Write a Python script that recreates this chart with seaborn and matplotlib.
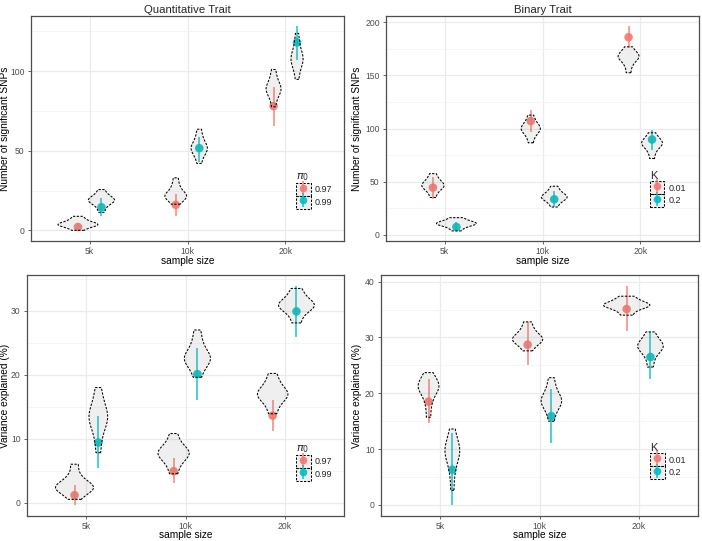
import numpy as np
import pandas as pd
import matplotlib
matplotlib.use("Agg")
import matplotlib.pyplot as plt
import seaborn as sns
from matplotlib.lines import Line2D
from matplotlib.patches import Rectangle
from matplotlib.legend_handler import HandlerTuple

sns.set_theme(style="white")
plt.rcParams['font.family'] = ['Liberation Sans', 'DejaVu Sans']

sample_sizes = ["5k", "10k", "20k"]
qt_levels = ["0.97", "0.99"]
bt_levels = ["0.01", "0.2"]

# ---- Quantitative trait: number of significant SNPs ----
qt_snp_dist = {
    "0.97": [[0.0, 1.7, 2.66, 3.34, 3.8, 3.8, 4.4, 5.55, 6.8, 8.8],
             [16.4, 18.9, 20.3, 21.3, 22.0, 22.0, 23.3, 25.9, 28.6, 33.0],
             [77.6, 82.7, 85.6, 87.6, 89.0, 89.0, 90.4, 93.2, 96.2, 101.0]],
    "0.99": [[11.3, 14.9, 16.9, 18.2, 18.9, 18.9, 19.6, 20.9, 22.6, 25.6],
             [42.0, 46.4, 48.9, 50.6, 51.8, 51.8, 53.2, 55.9, 58.8, 63.5],
             [94.8, 100.7, 104.0, 106.4, 108.0, 108.0, 109.9, 113.5, 117.4, 123.7]],
}
qt_snp_mean = {"0.97": [2.1, 16.0, 78.0], "0.99": [14.5, 51.6, 118.0]}
qt_snp_low = {"0.97": [0.0, 9.0, 65.4], "0.99": [8.8, 43.0, 107.0]}
qt_snp_high = {"0.97": [4.5, 22.6, 90.0], "0.99": [20.0, 58.7, 128.3]}

# ---- Binary trait: number of significant SNPs ----
bt_snp_dist = {
    "0.01": [[35.0, 40.2, 43.1, 45.1, 46.5, 46.5, 47.8, 50.4, 53.1, 57.5],
             [86.5, 92.6, 96.0, 98.4, 100.0, 100.0, 101.5, 104.4, 107.6, 112.6],
             [152.5, 159.3, 163.1, 165.8, 167.6, 167.6, 168.7, 170.9, 173.2, 177.0]],
    "0.2": [[3.5, 6.6, 8.3, 9.6, 10.4, 10.4, 11.1, 12.4, 13.8, 16.0],
            [26.0, 30.3, 32.7, 34.4, 35.5, 35.5, 36.7, 39.0, 41.6, 45.6],
            [71.7, 78.1, 81.7, 84.3, 86.0, 86.0, 87.2, 89.5, 92.0, 96.0]],
}
bt_snp_mean = {"0.01": [44.3, 107.0, 186.0], "0.2": [7.2, 33.3, 89.6]}
bt_snp_low = {"0.01": [34.0, 97.0, 175.5], "0.2": [4.0, 26.0, 80.0]}
bt_snp_high = {"0.01": [54.4, 117.0, 196.5], "0.2": [12.0, 41.0, 99.0]}

# ---- Quantitative trait: variance explained (%) ----
qt_var_dist = {
    "0.97": [[0.5, 1.4, 1.9, 2.2, 2.45, 2.45, 2.85, 3.4, 4.3, 6.0],
             [4.5, 5.9, 6.7, 7.3, 7.7, 7.7, 8.1, 8.6, 9.4, 10.8],
             [13.9, 15.3, 16.1, 16.6, 17.0, 17.0, 17.4, 18.1, 18.9, 20.2]],
    "0.99": [[7.8, 10.3, 11.7, 12.7, 13.4, 13.4, 14.0, 15.0, 16.2, 18.0],
             [19.6, 21.0, 21.8, 22.3, 22.7, 22.7, 23.2, 24.2, 25.3, 27.0],
             [28.1, 29.4, 30.1, 30.6, 30.9, 30.9, 31.2, 31.8, 32.5, 33.5]],
}
qt_var_mean = {"0.97": [1.15, 4.9, 13.6], "0.99": [9.4, 20.1, 29.9]}
qt_var_low = {"0.97": [-0.4, 3.0, 11.2], "0.99": [5.4, 16.1, 25.9]}
qt_var_high = {"0.97": [2.7, 7.0, 16.0], "0.99": [13.5, 24.2, 33.9]}

# ---- Binary trait: variance explained (%) ----
bt_var_dist = {
    "0.01": [[15.7, 18.1, 19.5, 20.5, 21.1, 21.1, 21.4, 22.0, 22.7, 23.7],
             [27.6, 28.6, 29.1, 29.5, 29.8, 29.8, 30.2, 30.9, 31.6, 32.8],
             [34.0, 34.8, 35.3, 35.6, 35.8, 35.8, 36.0, 36.4, 36.8, 37.4]],
    "0.2": [[2.6, 5.7, 7.4, 8.7, 9.5, 9.5, 10.0, 10.9, 12.0, 13.6],
            [15.0, 16.7, 17.6, 18.3, 18.7, 18.7, 19.2, 20.1, 21.2, 22.8],
            [24.7, 26.4, 27.3, 28.0, 28.4, 28.4, 28.7, 29.3, 30.0, 31.0]],
}
bt_var_mean = {"0.01": [18.5, 28.7, 35.1], "0.2": [6.3, 15.9, 26.5]}
bt_var_low = {"0.01": [14.6, 25.0, 31.1], "0.2": [0.0, 11.0, 22.6]}
bt_var_high = {"0.01": [22.6, 32.8, 39.2], "0.2": [12.8, 20.8, 31.0]}

RED = "#F8766D"
TEAL = "#00BFC4"
VFILL = (0.5, 0.5, 0.5, 0.12)
DASH = (0, (2.2, 1.4))

W, H = 702, 541


def draw_panel(ax, dist, mean, low, high, levels, width, ylim, yticks, yminor,
               ylabel, legend_title, anchor, box_px, ylabel_x_px, xlabel_gap_px,
               title=None):
    offsets = {levels[0]: -0.12, levels[1]: 0.12}
    colors = {levels[0]: RED, levels[1]: TEAL}
    vrows, prows = [], []
    for lev in levels:
        for i, size in enumerate(sample_sizes):
            pos = i + 1 + offsets[lev]
            for v in dist[lev][i]:
                vrows.append({"pos": pos, "value": v})
            prows.append({"pos": pos, "level": lev, "mean": mean[lev][i],
                          "low": low[lev][i], "high": high[lev][i]})
    vdf = pd.DataFrame(vrows)
    pdf = pd.DataFrame(prows)

    ax.vlines(pdf["pos"], pdf["low"], pdf["high"],
              colors=pdf["level"].map(colors), lw=1.1, zorder=2, alpha=0.9)
    sns.scatterplot(data=pdf, x="pos", y="mean", hue="level", palette=colors,
                    s=38, edgecolor="none", legend=False, ax=ax, zorder=2,
                    alpha=0.9)
    n0 = len(ax.collections)
    sns.violinplot(data=vdf, x="pos", y="value", orient="x", native_scale=True,
                   inner=None, cut=0, density_norm="area", width=width,
                   bw_adjust=0.85,
                   color="#808080", saturation=1, linecolor="black",
                   linewidth=0.75, linestyle=DASH, ax=ax)
    for coll in ax.collections[n0:]:
        coll.set_facecolor(VFILL)
        coll.set_edgecolor("black")
        coll.set_zorder(3)

    ax.set_xlim(0.4, 3.6)
    ax.set_ylim(*ylim)
    ax.set_xticks([1, 2, 3])
    ax.set_xticklabels(sample_sizes)
    ax.set_yticks(yticks)
    ax.set_yticklabels([str(t) for t in yticks])
    ax.set_yticks(yminor, minor=True)
    ax.set_axisbelow(True)
    ax.grid(True, which="major", color="#EBEBEB", lw=0.9)
    ax.grid(True, which="minor", axis="y", color="#F2F2F2", lw=0.5)
    for sp in ax.spines.values():
        sp.set_visible(True)
        sp.set_color("#4D4D4D")
        sp.set_linewidth(0.9)
    ax.tick_params(axis="both", which="major", length=2.5, width=0.6,
                   color="#4D4D4D", labelcolor="#4D4D4D", labelsize=6.2, pad=2,
                   bottom=True, left=True)
    ax.tick_params(axis="y", which="minor", length=0)

    left, top, right, bottom = box_px
    ax.set_xlabel("sample size", fontsize=7.3, color="black")
    ax.xaxis.set_label_coords(0.5, -xlabel_gap_px / (bottom - top))
    ax.set_ylabel(ylabel, fontsize=7.3, color="black")
    ax.yaxis.set_label_coords((ylabel_x_px - left) / (right - left), 0.5)
    if title:
        ax.set_title(title, fontsize=8.2, pad=2.5)

    handles = []
    for lev in levels:
        c = colors[lev]
        box = Rectangle((0, 0), 1, 1, facecolor=VFILL, edgecolor="black",
                        linestyle=DASH, lw=0.75)
        bar = Line2D([], [], color=c, marker="|", markersize=10,
                     markeredgewidth=1.1, linestyle="none", alpha=0.9)
        dot = Line2D([], [], color=c, marker="o", markersize=5.5,
                     markeredgewidth=0, linestyle="none", alpha=0.9)
        handles.append((box, bar, dot))
    ax.legend(handles, levels, title=legend_title, loc="upper left",
              bbox_to_anchor=anchor, frameon=False, fontsize=6.5,
              title_fontsize=8, handlelength=1.6, handleheight=1.8,
              labelspacing=0.0, handletextpad=0.5, borderpad=0,
              borderaxespad=0, alignment="left",
              handler_map={tuple: HandlerTuple(ndivide=1)})


fig = plt.figure(figsize=(7.02, 5.41), dpi=100)


def axes_px(box):
    left, top, right, bottom = box
    return fig.add_axes([left / W, 1 - bottom / H, (right - left) / W, (bottom - top) / H])


b1 = (31, 16, 344, 241)
b2 = (386, 16, 699, 241)
b3 = (27, 275, 344, 516)
b4 = (381, 275, 698, 516)
ax1, ax2, ax3, ax4 = axes_px(b1), axes_px(b2), axes_px(b3), axes_px(b4)

draw_panel(ax1, qt_snp_dist, qt_snp_mean, qt_snp_low, qt_snp_high, qt_levels,
           1.7, (-6.7, 134.6), [0, 50, 100], [25, 75, 125],
           "Number of significant SNPs", r"$\pi_0$", (0.847, 0.31),
           b1, 10.5, 14.5, title="Quantitative Trait")
draw_panel(ax2, bt_snp_dist, bt_snp_mean, bt_snp_low, bt_snp_high, bt_levels,
           1.7, (-6.0, 206.0), [0, 50, 100, 150, 200], [25, 75, 125, 175],
           "Number of significant SNPs", "K", (0.843, 0.31),
           b2, 362, 14.5, title="Binary Trait")
draw_panel(ax3, qt_var_dist, qt_var_mean, qt_var_low, qt_var_high, qt_levels,
           1.6, (-2.1, 35.6), [0, 10, 20, 30], [5, 15, 25, 35],
           "Variance explained (%)", r"$\pi_0$", (0.849, 0.302),
           b3, 10.5, 14.5)
draw_panel(ax4, bt_var_dist, bt_var_mean, bt_var_low, bt_var_high, bt_levels,
           1.95, (-2.0, 41.2), [0, 10, 20, 30, 40], [5, 15, 25, 35],
           "Variance explained (%)", "K", (0.849, 0.302),
           b4, 362, 14.5)

fig.savefig("out.png", dpi=100)
